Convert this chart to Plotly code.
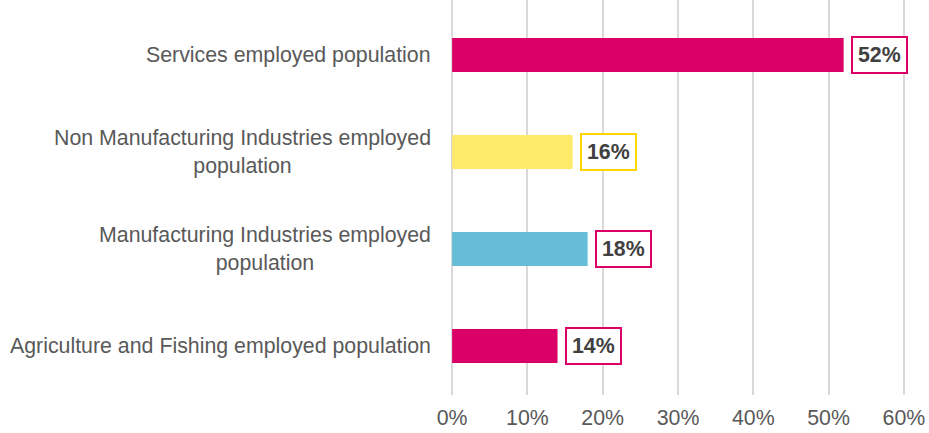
import plotly.graph_objects as go

# Employment share by sector (percent)
categories = [
    "Agriculture and Fishing employed population",
    "Manufacturing Industries employed<br>population",
    "Non Manufacturing Industries employed<br>population",
    "Services employed population",
]
values = [14, 18, 16, 52]
bar_colors = ["#DB0068", "#66BDD6", "#FDE96A", "#DB0068"]
label_borders = ["#DB0068", "#DB0068", "#FFD700", "#DB0068"]
x_ticks = [0, 10, 20, 30, 40, 50, 60]
x_tick_text = [f"{t}%" for t in x_ticks]

FONT = "Arial, Liberation Sans, sans-serif"
FS = 21.33  # 16pt
GRID = "#D9D9D9"

fig = go.Figure(
    go.Bar(
        x=values,
        y=categories,
        orientation="h",
        marker=dict(color=bar_colors, line=dict(width=0)),
        width=0.35,
        hoverinfo="skip",
    )
)

# Value labels in outlined boxes just past each bar end
for cat, v, bc in zip(categories, values, label_borders):
    fig.add_annotation(
        x=v, y=cat, xref="x", yref="y",
        text=f"<b>{v}%</b>",
        showarrow=False,
        xanchor="left", yanchor="middle",
        xshift=7,
        font=dict(family=FONT, size=FS, color="#404040"),
        bgcolor="white",
        bordercolor=bc, borderwidth=2, borderpad=5,
    )

# Category labels, lines centred, block right-aligned to the plot edge
for cat in categories:
    fig.add_annotation(
        x=0, y=cat, xref="paper", yref="y",
        text=cat,
        showarrow=False,
        xanchor="right", yanchor="middle",
        align="center",
        xshift=-18,
        font=dict(family=FONT, size=FS, color="#595959"),
    )

fig.update_layout(
    width=929, height=433,
    margin=dict(l=451, r=24, t=0, b=38),
    paper_bgcolor="white",
    plot_bgcolor="white",
    showlegend=False,
    font=dict(family=FONT, size=FS, color="#595959"),
    xaxis=dict(
        range=[-0.15, 60.15],
        tickvals=x_ticks,
        ticktext=x_tick_text,
        showgrid=True,
        gridcolor=GRID,
        gridwidth=2,
        zeroline=True,
        zerolinecolor=GRID,
        zerolinewidth=2,
        showline=False,
        ticks="",
        ticklabelstandoff=8,
        tickfont=dict(family=FONT, size=FS, color="#595959"),
    ),
    yaxis=dict(
        categoryorder="array",
        categoryarray=categories,
        range=[-0.505, 3.567],
        showticklabels=False,
        showgrid=False,
        zeroline=False,
        showline=False,
        ticks="",
    ),
)

fig.write_html("out.html")
